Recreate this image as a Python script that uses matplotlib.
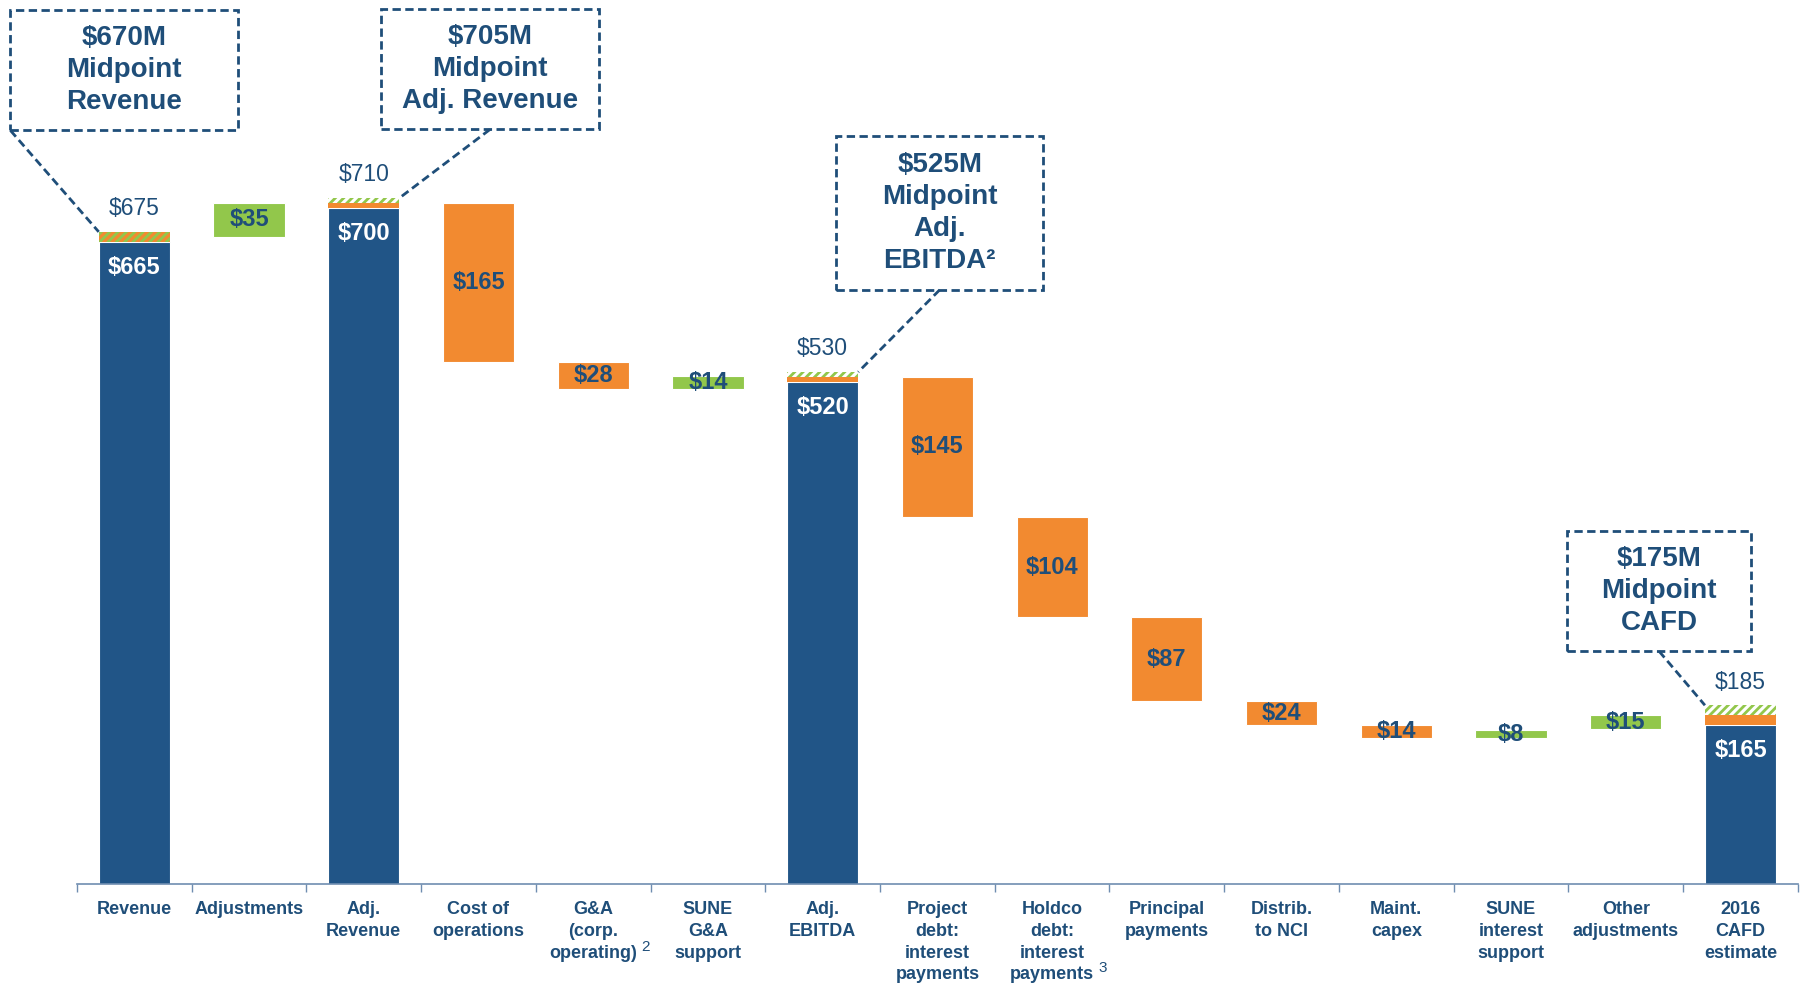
import matplotlib
matplotlib.use("Agg")
import matplotlib.pyplot as plt
from matplotlib.patches import Rectangle

plt.rcParams['font.family'] = ['Liberation Sans', 'DejaVu Sans']
plt.rcParams['hatch.linewidth'] = 2.0

# --- data ---
categories = ["Revenue", "Adjustments", "Adj.\nRevenue", "Cost of\noperations",
              "G&A\n(corp.\noperating)", "SUNE\nG&A\nsupport", "Adj.\nEBITDA",
              "Project\ndebt:\ninterest\npayments", "Holdco\ndebt:\ninterest\npayments",
              "Principal\npayments", "Distrib.\nto NCI", "Maint.\ncapex",
              "SUNE\ninterest\nsupport", "Other\nadjustments", "2016\nCAFD\nestimate"]
footnotes = {4: "2", 8: "3"}
kinds = ["total", "up", "total", "down", "down", "up", "total",
         "down", "down", "down", "down", "down", "up", "up", "total"]
bar_low = [0, 670, 0, 540, 512, 512, 0, 380, 276, 189, 165, 151, 151, 160, 0]
bar_high = [665, 705, 700, 705, 540, 526, 520, 525, 380, 276, 189, 165, 159, 175, 165]
bar_labels = ["$665", "$35", "$700", "$165", "$28", "$14", "$520", "$145",
              "$104", "$87", "$24", "$14", "$8", "$15", "$165"]

# guidance ranges on top of the total bars
range_idx = [0, 2, 6, 14]
range_mid = [665, 705, 525, 175]   # solid orange up to here
range_high = [675, 710, 530, 185]  # hatched up to here
range_labels = ["$675", "$710", "$530", "$185"]

callout_text = ["$670M\nMidpoint\nRevenue", "$705M\nMidpoint\nAdj. Revenue",
                "$525M\nMidpoint\nAdj.\nEBITDA²", "$175M\nMidpoint\nCAFD"]

# --- style ---
BLUE = "#215587"
ORANGE = "#F28A30"
GREEN = "#92C74B"
TXT = "#1F4E79"

fig = plt.figure(figsize=(18.02, 9.83), dpi=100)
ax = fig.add_axes([0.0427, 0.1007, 0.955, 0.8993])
ax.set_xlim(-0.5, len(categories) - 0.5)
ax.set_ylim(0, 915)

W = 0.62
x = list(range(len(categories)))
colors = {"total": BLUE, "up": GREEN, "down": ORANGE}
for i in x:
    ax.bar(i, bar_high[i] - bar_low[i], bottom=bar_low[i], width=W,
           color=colors[kinds[i]], edgecolor="white", linewidth=0.8)
    if kinds[i] == "total":
        ax.text(i, bar_high[i] - 27, bar_labels[i], ha="center", va="center",
                color="white", fontsize=17, fontweight="bold")
    else:
        ax.text(i, (bar_low[i] + bar_high[i]) / 2, bar_labels[i], ha="center",
                va="center", color=TXT, fontsize=17, fontweight="bold")

# ranges on the totals
for k, i in enumerate(range_idx):
    lo = bar_high[i]
    if range_mid[k] > lo:
        ax.bar(i, range_mid[k] - lo, bottom=lo, width=W, color=ORANGE, linewidth=0)
        ax.bar(i, range_high[k] - range_mid[k], bottom=range_mid[k], width=W,
               color="white", hatch="////", edgecolor=GREEN, linewidth=0)
    else:
        ax.bar(i, range_high[k] - lo, bottom=lo, width=W, color=ORANGE,
               hatch="////", edgecolor=GREEN, linewidth=0)
    ax.text(i, range_high[k] + 12, range_labels[k], ha="center", va="bottom",
            color=TXT, fontsize=16.5)

# callout boxes (x0, x1, y0, y1 in axis units) and where their leader starts
boxes = [(-1.08, 0.90, 780, 905), (2.15, 4.05, 781, 906),
         (6.12, 7.92, 615, 774), (12.49, 14.09, 241, 365)]
leader_from = ["left", "center", "center", "center"]
leader_to_side = [-1, 1, 1, -1]
for k, (x0, x1, y0, y1) in enumerate(boxes):
    ax.add_patch(Rectangle((x0, y0), x1 - x0, y1 - y0, fill=False, edgecolor=TXT,
                           linewidth=2, linestyle=(0, (3, 1.6)), clip_on=False))
    ax.text((x0 + x1) / 2, (y0 + y1) / 2, callout_text[k], ha="center", va="center",
            color=TXT, fontsize=20, fontweight="bold", linespacing=1.3)
    sx = x0 if leader_from[k] == "left" else (x0 + x1) / 2
    i = range_idx[k]
    ex = i + leader_to_side[k] * W / 2
    ax.plot([sx, ex], [y0, range_high[k]], color=TXT, linewidth=2,
            linestyle=(0, (3, 1.6)), clip_on=False)

# axes
for s in ["top", "right", "left"]:
    ax.spines[s].set_visible(False)
ax.spines["bottom"].set_color("#6F8DB0")
ax.spines["bottom"].set_linewidth(1.2)
ax.set_yticks([])
ax.set_xticks(x)
ax.set_xticklabels(categories, fontsize=13, fontweight="bold", color=TXT,
                   linespacing=1.38, va="top",
                   family=["Liberation Sans Narrow", "Liberation Sans"])
ax.tick_params(axis="x", which="major", length=0, pad=12)
ax.set_xticks([i - 0.5 for i in range(len(categories) + 1)], minor=True)
ax.tick_params(axis="x", which="minor", length=6, color="#6F8DB0", width=1)

# footnote marks beside the last line of two tick labels
fig.canvas.draw()
ticklabels = ax.get_xticklabels()
for i, mark in footnotes.items():
    bb = ticklabels[i].get_window_extent()
    fig.text((bb.x1 + 4) / fig.bbox.width, (bb.y0 + 8) / fig.bbox.height, mark,
             color=TXT, fontsize=11, ha="left", va="bottom",
             family=["Liberation Sans Narrow", "Liberation Sans"])

fig.savefig("out.png", dpi=100)
